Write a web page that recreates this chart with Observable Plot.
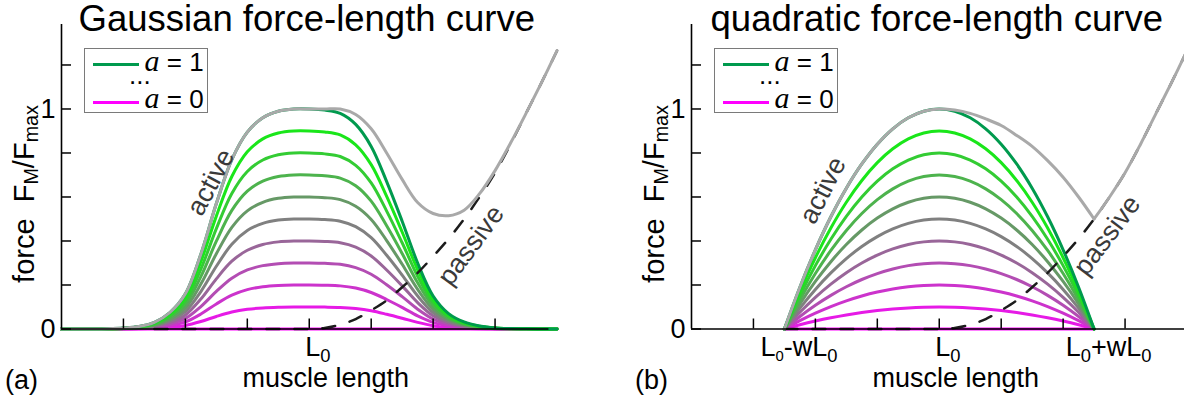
<!DOCTYPE html>
<html><head><meta charset="utf-8">
<script src="https://cdn.jsdelivr.net/npm/d3@7"></script>
<script src="https://cdn.jsdelivr.net/npm/@observablehq/plot@0.6"></script>
<style>
html,body{margin:0;padding:0;background:#fff;overflow:hidden}
#root{position:relative;width:1184px;height:401px;overflow:hidden;font-family:"Liberation Sans",Arial,Helvetica,sans-serif;color:#000}
.panel{position:absolute;top:0;height:401px}
.panel svg{position:absolute;left:0;top:0}
.lbl{position:absolute;white-space:nowrap;line-height:1}
.sub{font-size:0.68em;position:relative;top:0.3em;line-height:0}
.ysub{font-size:0.68em;position:relative;top:0.22em;line-height:0}
.subs{font-size:0.55em;position:relative;top:0.3em;line-height:0}
.legend{position:absolute;background:#fff;border:1.5px solid #7a7a7a;box-sizing:border-box}
.legend .ln{position:absolute;height:0}
.legend .t{position:absolute;white-space:nowrap;line-height:1;font-size:26px}
.legend .t i{font-family:"Liberation Serif","Times New Roman",serif;font-size:30px}
</style></head>
<body><div id="root"></div>
<script>
// ---------- data ----------
const xs = [0,0.25,0.5,0.75,1,1.25,1.5,1.75,2,2.25,2.5,2.75,3,3.25,3.5,3.75,4,4.25,4.5,4.75,5,5.25,5.5,5.75,6,6.25,6.5,6.75,7,7.25,7.5,7.75,8];
const levels = [0,0.1,0.2,0.3,0.4,0.5,0.6,0.7,0.8,0.9,1];
// Gaussian active force-length curve at full activation (a = 1)
const gaussActive = [0,0,0,0.001,0.004,0.011,0.03,0.075,0.16,0.34,0.57,0.77,0.895,0.96,0.99,1,1,0.995,0.98,0.93,0.83,0.67,0.49,0.30,0.15,0.07,0.032,0.014,0.005,0.002,0.001,0,0];
// Gaussian panel: total (active a=1 + passive), grey curve
const gaussTotal = [0,0,0,0.001,0.004,0.011,0.03,0.075,0.16,0.34,0.57,0.77,0.895,0.96,0.99,1,1,1,1,0.975,0.91,0.80,0.68,0.575,0.525,0.515,0.54,0.615,0.72,0.845,0.98,1.12,1.265];
// quadratic active force-length curve at a = 1 (null = not drawn)
const quadActive = [null,null,null,null,null,null,0,0.19,0.36,0.51,0.64,0.75,0.84,0.91,0.96,0.99,1,0.99,0.96,0.91,0.84,0.75,0.64,0.51,0.36,0.19,0,null,null,null,null,null,null];
// quadratic panel: total (grey curve)
const quadTotal = [null,null,null,null,null,null,0,0.19,0.36,0.51,0.64,0.75,0.84,0.91,0.96,0.99,1,0.995,0.98,0.955,0.925,0.88,0.83,0.765,0.69,0.60,0.50,0.60,0.71,0.84,0.98,1.12,1.265];
const quadKink = 6.5; // L0 + wL0
// passive force (dashed), same in both panels
const passive = [null,null,null,null,null,null,0,0,0,0,0,0,0,0,0,0,0,0.005,0.02,0.045,0.085,0.13,0.19,0.255,0.33,0.41,0.50,0.60,0.71,0.84,0.98,1.12,1.265];
const xTicks = [1,2,3,4,5,6,7];
const yTicks = [0,0.2,0.4,0.6,0.8,1,1.2];
const yTickLabels = [0,1];
const titles = ["Gaussian force-length curve","quadratic force-length curve"];
const panelTags = ["(a)","(b)"];
const gaussXLabels = [{x:4, html:'L<span class="sub">0</span>'}];
const quadXLabels = [{x:1.5, html:'L<span class="subs">0</span>-wL<span class="sub">0</span>'},{x:4, html:'L<span class="sub">0</span>'},{x:6.5, html:'L<span class="sub">0</span>+wL<span class="sub">0</span>'}];
const gaussNotes = [{x:2.41,y:0.667,text:"active",rotate:-62},{x:6.61,y:0.38,text:"passive",rotate:-53.5}];
const quadNotes = [{x:2.12,y:0.63,text:"active",rotate:-63},{x:6.71,y:0.425,text:"passive",rotate:-53}];

// ---------- styles ----------
const FONT = '"Liberation Sans",Arial,Helvetica,sans-serif';
const interp = d3.interpolateRgb("#ff00ff","#00ff00");
const colors = levels.map(a => a === 1 ? "#009a4e" : interp(a));
const X_DOMAIN = [0, 8], Y_TOP = 1.384;

const root = document.getElementById("root");

function addLbl(parent, html, x, baseline, size, anchor, extraTransform) {
  const el = document.createElement("div");
  el.className = "lbl";
  el.innerHTML = html;
  el.style.fontSize = size + "px";
  el.style.left = x + "px";
  el.style.top = (baseline - 0.8465 * size) + "px";
  el.style.transform = (anchor === "middle" ? "translateX(-50%)" : anchor === "end" ? "translateX(-100%)" : "") + (extraTransform || "");
  parent.appendChild(el);
  return el;
}

function panel(cfg) {
  const div = document.createElement("div");
  div.className = "panel";
  div.style.left = cfg.left + "px";
  div.style.width = cfg.width + "px";
  root.appendChild(div);

  const rows = [];
  for (const a of levels) xs.forEach((x, i) => { if (cfg.active[i] != null) rows.push({x, y: a * cfg.active[i], a}); });
  const pas = [];
  xs.forEach((x, i) => { if (passive[i] != null) pas.push({x, y: passive[i]}); });
  const tot = [];
  xs.forEach((x, i) => {
    if (cfg.total[i] == null) return;
    if (cfg.kink == null) tot.push({x, y: cfg.total[i], seg: 0});
    else {
      if (x <= cfg.kink) tot.push({x, y: cfg.total[i], seg: 0});
      if (x >= cfg.kink) tot.push({x, y: cfg.total[i], seg: 1});
    }
  });

  const chart = Plot.plot({
    width: cfg.width, height: 401,
    marginLeft: 61, marginRight: cfg.width - 556.5, marginTop: 24, marginBottom: 72.5,
    x: {domain: X_DOMAIN, axis: null},
    y: {domain: [0, Y_TOP], axis: null},
    color: {type: "ordinal", domain: levels, range: colors},
    style: {background: "transparent", overflow: "visible", fontFamily: FONT, color: "#000"},
    marks: [
      Plot.line(rows, {x: "x", y: "y", z: "a", stroke: "a", strokeWidth: 3, curve: "catmull-rom"}),
      Plot.line(pas, {x: "x", y: "y", stroke: "#1c1c1c", strokeWidth: 2.5, strokeDasharray: "13,15", curve: "catmull-rom"}),
      Plot.line(tot, {x: "x", y: "y", z: "seg", stroke: "#a9a9a9", strokeWidth: 3, curve: "catmull-rom"}),
      Plot.ruleY([0], {x1: 0, x2: cfg.axisEnd, stroke: "#000", strokeWidth: 1.6}),
      Plot.ruleX([0], {y1: 0, y2: Y_TOP, stroke: "#000", strokeWidth: 1.6}),
      Plot.axisX(xTicks, {tickSize: -10, tickFormat: () => "", label: null, strokeWidth: 1.5}),
      Plot.axisY(yTicks, {tickSize: -10, tickFormat: () => "", label: null, strokeWidth: 1.5}),
      Plot.axisY(yTickLabels, {tickSize: 0, tickPadding: 6, fontSize: 27, tickFormat: d => String(d), label: null}),
      Plot.text(cfg.notes, {x: "x", y: "y", text: "text", rotate: "rotate", fontSize: 27, fill: "#3a3a3a"})
    ]
  });
  div.appendChild(chart);
  const sx = chart.scale("x");

  // title
  addLbl(div, cfg.title, sx.apply(4) - 2, 32, 36.5, "middle");
  // x tick labels
  for (const t of cfg.xLabels) addLbl(div, t.html, sx.apply(t.x) + (t.x === 4 ? 9 : 15), 357, 27, "middle");
  // x axis title
  addLbl(div, "muscle length", sx.apply(4) + 17, 388, 27, "middle");
  // panel tag
  addLbl(div, cfg.tag, 5, 390, 27, "start");
  // y axis title (rotated)
  const yl = document.createElement("div");
  yl.className = "lbl";
  yl.innerHTML = 'force&nbsp;&nbsp;F<span class="ysub">M</span>/F<span class="ysub">max</span>';
  yl.style.fontSize = "29px";
  yl.style.left = "24px";
  yl.style.top = "194px";
  yl.style.transform = "translate(-50%,-50%) rotate(-90deg)";
  div.appendChild(yl);

  // legend
  const lg = document.createElement("div");
  lg.className = "legend";
  lg.style.left = (sx.apply(0) + 23) + "px";
  lg.style.top = "48px";
  lg.style.width = "124px";
  lg.style.height = "65px";
  lg.innerHTML =
    `<div class="ln" style="left:7.5px;top:14px;width:46px;border-top:3px solid ${colors[colors.length-1]}"></div>` +
    `<div class="t" style="left:59.5px;top:-3px"><i>a</i> = 1</div>` +
    `<div class="t" style="left:44px;top:13px">...</div>` +
    `<div class="ln" style="left:7.5px;top:51.5px;width:46px;border-top:3px solid ${colors[0]}"></div>` +
    `<div class="t" style="left:59.5px;top:34px"><i>a</i> = 0</div>`;
  div.appendChild(lg);
}

panel({left: 0, width: 630, active: gaussActive, total: gaussTotal, kink: null, axisEnd: 7.87,
       title: titles[0], tag: panelTags[0], xLabels: gaussXLabels, notes: gaussNotes});
panel({left: 630, width: 560, active: quadActive, total: quadTotal, kink: quadKink, axisEnd: 8,
       title: titles[1], tag: panelTags[1], xLabels: quadXLabels, notes: quadNotes});
</script>
</body></html>
